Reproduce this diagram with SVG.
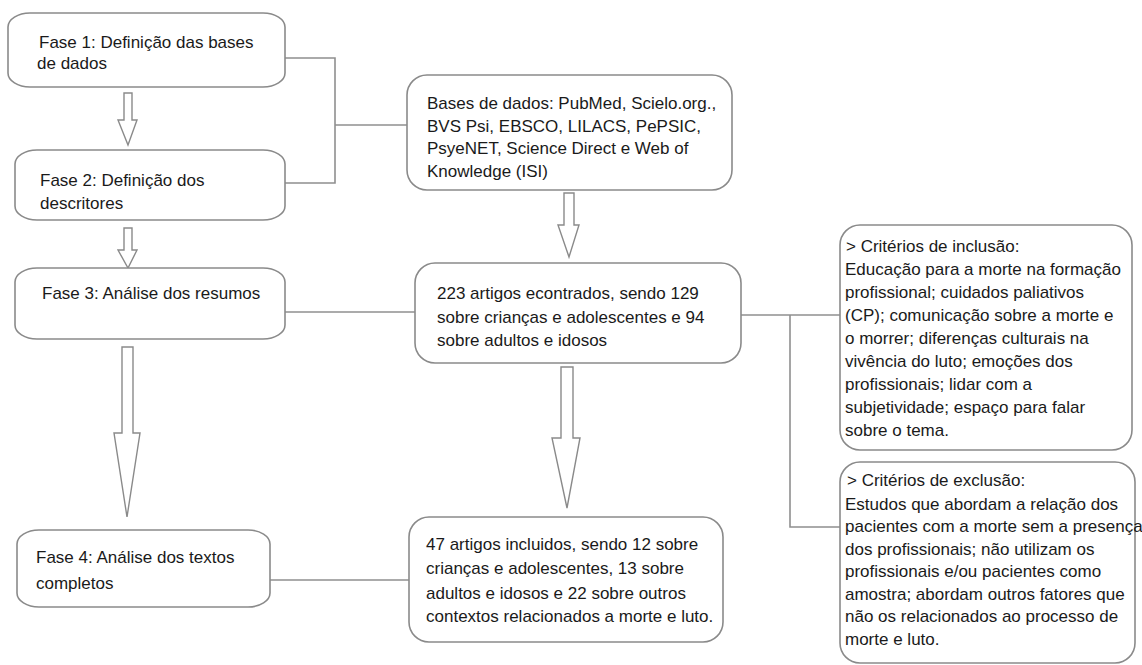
<svg xmlns="http://www.w3.org/2000/svg" width="1142" height="665" viewBox="0 0 1142 665">
<style>
.box{fill:#fff;stroke:#8a8a8a;stroke-width:1.6}
.arrow{fill:#fff;stroke:#8a8a8a;stroke-width:1.4;stroke-linejoin:miter}
.conn{fill:none;stroke:#8f8f8f;stroke-width:1.6}
text{font-family:"Liberation Sans",Arial,sans-serif;font-size:17px;fill:#1a1a1a}
</style>
<rect width="1142" height="665" fill="#fff"/>
<g id="connectors">
<polyline class="conn" points="285,58 335,58 335,183 285,183"/>
<line class="conn" x1="335" y1="125" x2="407" y2="125"/>
<line class="conn" x1="285" y1="312" x2="415" y2="312"/>
<line class="conn" x1="741" y1="315" x2="840" y2="315"/>
<polyline class="conn" points="790,315 790,527 840,527"/>
<line class="conn" x1="270" y1="580" x2="409" y2="580"/>
<polygon class="arrow" points="124,93 132,93 132,120 137,120 128,145 118,120 124,120"/>
<polygon class="arrow" points="124,228 132,228 132,250 137,250 128,268 118,250 124,250"/>
<polygon class="arrow" points="122,347 133,347 133,433 140,433 127,517 114,433 122,433"/>
<polygon class="arrow" points="564,193 574,193 574,225 579,225 569,257 558,225 564,225"/>
<polygon class="arrow" points="561,367 573,367 573,438 580,438 567,508 552,438 561,438"/>
</g>
<g id="fase1">
<rect class="box" x="8" y="13" width="277" height="74" rx="22" ry="14"/>
<text><tspan x="39" y="48">Fase 1: Definição das bases</tspan><tspan x="37" y="69">de dados</tspan></text>
</g>
<g id="fase2">
<rect class="box" x="15" y="150" width="270" height="70" rx="22" ry="14"/>
<text><tspan x="40" y="186">Fase 2: Definição dos</tspan><tspan x="40" y="209">descritores</tspan></text>
</g>
<g id="fase3">
<rect class="box" x="15" y="268" width="270" height="71" rx="22" ry="14"/>
<text x="42" y="299">Fase 3: Análise dos resumos</text>
</g>
<g id="fase4">
<rect class="box" x="17" y="530" width="253" height="77" rx="22" ry="14"/>
<text><tspan x="36" y="563">Fase 4: Análise dos textos</tspan><tspan x="36" y="589">completos</tspan></text>
</g>
<g id="bases">
<rect class="box" x="407" y="75" width="325" height="115" rx="20"/>
<text><tspan x="427" y="109">Bases de dados: PubMed, Scielo.org.,</tspan><tspan x="427" y="131.5">BVS Psi, EBSCO, LILACS, PePSIC,</tspan><tspan x="427" y="154">PsyeNET, Science Direct e Web of</tspan><tspan x="427" y="176.5">Knowledge (ISI)</tspan></text>
</g>
<g id="encontrados">
<rect class="box" x="415" y="263" width="326" height="100" rx="20"/>
<text><tspan x="437" y="299">223 artigos econtrados, sendo 129</tspan><tspan x="437" y="322.5">sobre crianças e adolescentes e 94</tspan><tspan x="437" y="346">sobre adultos e idosos</tspan></text>
</g>
<g id="incluidos">
<rect class="box" x="409" y="517" width="314" height="125" rx="20"/>
<text><tspan x="426" y="550">47 artigos incluidos, sendo 12 sobre</tspan><tspan x="426" y="574">crianças e adolescentes, 13 sobre</tspan><tspan x="426" y="598.5">adultos e idosos e 22 sobre outros</tspan><tspan x="426" y="622">contextos relacionados a morte e luto.</tspan></text>
</g>
<g id="inclusao">
<rect class="box" x="840" y="225" width="292" height="225" rx="20"/>
<text><tspan x="846" y="252">&gt; Critérios de inclusão:</tspan><tspan x="845" y="275">Educação para a morte na formação</tspan><tspan x="845" y="298">profissional; cuidados paliativos</tspan><tspan x="845" y="321">(CP); comunicação sobre a morte e</tspan><tspan x="845" y="344">o morrer; diferenças culturais na</tspan><tspan x="845" y="367">vivência do luto; emoções dos</tspan><tspan x="845" y="390">profissionais; lidar com a</tspan><tspan x="845" y="413">subjetividade; espaço para falar</tspan><tspan x="845" y="436">sobre o tema.</tspan></text>
</g>
<g id="exclusao">
<rect class="box" x="840" y="462" width="295" height="201" rx="20"/>
<text><tspan x="847" y="486">&gt; Critérios de exclusão:</tspan><tspan x="845" y="509.5">Estudos que abordam a relação dos</tspan><tspan x="845" y="532">pacientes com a morte sem a presença</tspan><tspan x="845" y="554.5">dos profissionais; não utilizam os</tspan><tspan x="845" y="577">profissionais e/ou pacientes como</tspan><tspan x="845" y="599.5">amostra; abordam outros fatores que</tspan><tspan x="845" y="622">não os relacionados ao processo de</tspan><tspan x="845" y="644.5">morte e luto.</tspan></text>
</g>
</svg>
